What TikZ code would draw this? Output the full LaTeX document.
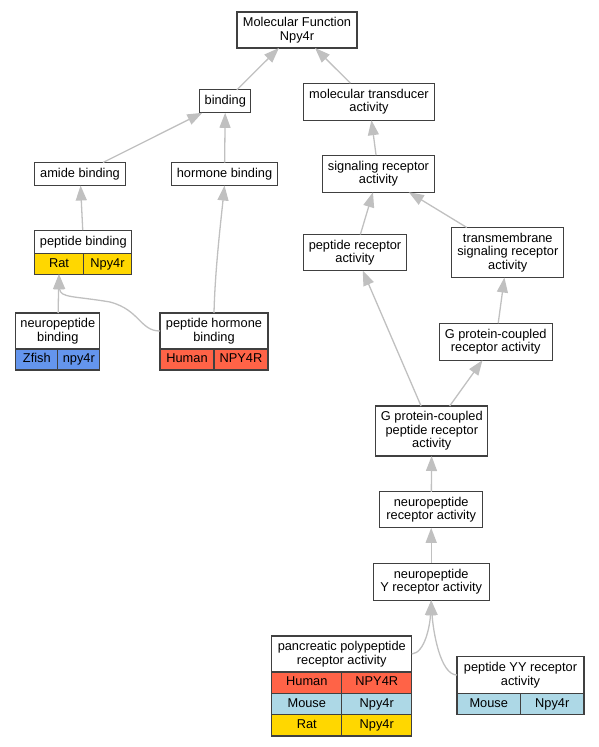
\documentclass[tikz,border=0pt]{standalone}
\usepackage{fontspec}
\setmainfont{Liberation Sans}
\usetikzlibrary{arrows.meta}
\definecolor{boxline}{RGB}{64,64,64}
\definecolor{edgegray}{RGB}{192,192,192}
\definecolor{rat}{RGB}{255,215,0}
\definecolor{zfish}{RGB}{100,149,237}
\definecolor{human}{RGB}{255,99,71}
\definecolor{mouse}{RGB}{173,216,230}
\newcommand\gofont{\fontsize{12.8}{13.6}\selectfont}

\begin{document}
\begin{tikzpicture}[x=1pt, y=-1pt,
    term/.style={draw=boxline, line width=1.2pt, fill=white, inner sep=0pt, outer sep=0pt, align=center, font=\gofont},
    oneline/.style={text height=9.3pt, text depth=2.7pt},
    cell/.style={draw=boxline, line width=1.2pt, inner sep=0pt, outer sep=0pt, anchor=north west, oneline, font=\gofont},
    edge/.style={draw=edgegray, line width=1.3pt, -{Triangle[length=15pt, width=11pt, fill=edgegray]}}]

    \useasboundingbox (0,0) rectangle (599,747);

    % terms, top to bottom
    \node[term, minimum width=120pt, minimum height=36pt] (mf) at (297,30) {Molecular Function\\Npy4r};
    \node[term, oneline, minimum width=51pt, minimum height=23pt] (binding) at (225.3,101.3) {binding};
    \node[term, minimum width=131pt, minimum height=37pt] (mta) at (369,101.7) {molecular transducer\\activity};
    \node[term, oneline, minimum width=91pt, minimum height=23pt] (amide) at (80,174) {amide binding};
    \node[term, oneline, minimum width=106pt, minimum height=23pt] (hormone) at (224.5,174) {hormone binding};
    \node[term, minimum width=112pt, minimum height=37pt] (sra) at (378.5,173.7) {signaling receptor\\activity};
    \node[term, minimum width=103pt, minimum height=36pt] (pra) at (355,252.5) {peptide receptor\\activity};
    \node[term, minimum width=112pt, minimum height=50pt] (tsra) at (507.8,252.5) {transmembrane\\signaling receptor\\activity};
    \node[term, minimum width=113pt, minimum height=37pt] (gpcr) at (495.7,341.7) {G protein-coupled\\receptor activity};
    \node[term, minimum width=112pt, minimum height=50pt] (gpcpr) at (431.8,431) {G protein-coupled\\peptide receptor\\activity};
    \node[term, minimum width=103pt, minimum height=36pt] (nra) at (431.2,509.8) {neuropeptide\\receptor activity};
    \node[term, minimum width=116pt, minimum height=37pt] (npyra) at (431.2,581.7) {neuropeptide\\Y receptor activity};

    % terms with gene rows
    \node[term, oneline, minimum width=97pt, minimum height=23pt] (pb) at (83.3,241.7) {peptide binding};
    \node[cell, fill=rat, minimum width=48.5pt, minimum height=21pt] (pb-rat) at (pb.south west) {Rat};
    \node[cell, fill=rat, minimum width=48.5pt, minimum height=21pt] (pb-gene) at (pb-rat.north east) {Npy4r};

    \node[term, minimum width=84pt, minimum height=36pt] (npb) at (57.8,331) {neuropeptide\\binding};
    \node[cell, fill=zfish, minimum width=42pt, minimum height=21pt] (npb-zfish) at (npb.south west) {Zfish};
    \node[cell, fill=zfish, minimum width=42pt, minimum height=21pt] (npb-gene) at (npb-zfish.north east) {npy4r};

    \node[term, minimum width=108pt, minimum height=36pt] (phb) at (214,331) {peptide hormone\\binding};
    \node[cell, fill=human, minimum width=54pt, minimum height=21pt] (phb-human) at (phb.south west) {Human};
    \node[cell, fill=human, minimum width=54pt, minimum height=21pt] (phb-gene) at (phb-human.north east) {NPY4R};

    \node[term, minimum width=140pt, minimum height=36pt] (ppra) at (341.8,654) {pancreatic polypeptide\\receptor activity};
    \node[cell, fill=human, minimum width=70pt, minimum height=21.3pt] (ppra-human) at (ppra.south west) {Human};
    \node[cell, fill=human, minimum width=70pt, minimum height=21.3pt] (ppra-hgene) at (ppra-human.north east) {NPY4R};
    \node[cell, fill=mouse, minimum width=70pt, minimum height=21.3pt] (ppra-mouse) at (ppra-human.south west) {Mouse};
    \node[cell, fill=mouse, minimum width=70pt, minimum height=21.3pt] (ppra-mgene) at (ppra-mouse.north east) {Npy4r};
    \node[cell, fill=rat, minimum width=70pt, minimum height=21.3pt] (ppra-rat) at (ppra-mouse.south west) {Rat};
    \node[cell, fill=rat, minimum width=70pt, minimum height=21.3pt] (ppra-rgene) at (ppra-rat.north east) {Npy4r};

    \node[term, minimum width=127pt, minimum height=36.6pt] (pyy) at (520.5,675) {peptide YY receptor\\activity};
    \node[cell, fill=mouse, minimum width=63.5pt, minimum height=21.4pt] (pyy-mouse) at (pyy.south west) {Mouse};
    \node[cell, fill=mouse, minimum width=63.5pt, minimum height=21.4pt] (pyy-gene) at (pyy-mouse.north east) {Npy4r};

    % is_a edges, child to parent
    \draw[edge] (binding) -- (mf);
    \draw[edge] (mta) -- (mf);
    \draw[edge] (amide) -- (binding);
    \draw[edge] (hormone) -- (binding);
    \draw[edge] (pb) -- (amide);
    \draw[edge] (npb) -- (pb-rat);
    \draw[edge] (phb.west) .. controls (140,331) and (140,310) .. (110,302) .. controls (75,296) and (60,298) .. (pb-rat.south);
    \draw[edge] (phb.north) .. controls (215,270) and (221,220) .. (hormone.south);
    \draw[edge] (sra) -- (mta);
    \draw[edge] (pra) -- (sra);
    \draw[edge] (tsra) -- (sra);
    \draw[edge] (gpcr) -- (tsra);
    \draw[edge] (gpcpr) -- (pra);
    \draw[edge] (gpcpr) -- (gpcr);
    \draw[edge] (nra) -- (gpcpr);
    \draw[edge] (npyra) -- (nra);
    \draw[edge] (ppra.east) .. controls (425,653) and (430,625) .. (npyra.south);
    \draw[edge] (pyy.west) .. controls (440,675) and (433,630) .. (npyra.south);

\end{tikzpicture}
\end{document}
